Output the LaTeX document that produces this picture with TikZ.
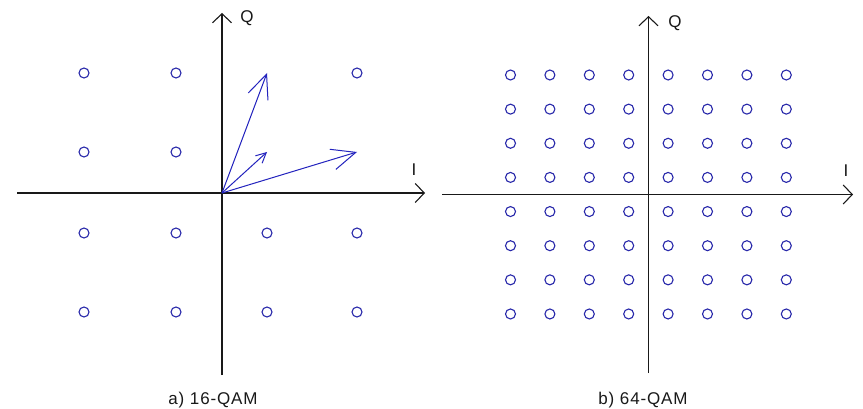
\documentclass[tikz,border=0pt]{standalone}
\usepackage{fontspec}
\setmainfont{Liberation Sans}
\usetikzlibrary{arrows.meta}
\definecolor{ptblue}{RGB}{40,40,170}
\definecolor{vecblue}{RGB}{35,35,190}
\definecolor{axisgray}{RGB}{25,25,25}
\begin{document}
\begin{tikzpicture}[x=1pt,y=-1pt,
  axis/.style={draw=axisgray, line width=1.2pt, -{Straight Barb[length=9pt,width=19pt,line width=1.1pt]}},
  pt/.style={circle, draw=ptblue, line width=1.1pt, minimum size=10pt, inner sep=0pt},
  vec/.style={draw=vecblue, line width=1pt},
  bighead/.style={-{Straight Barb[length=24pt,width=21pt,line width=1pt]}},
  smallhead/.style={-{Straight Barb[length=10pt,width=10pt,line width=1pt]}},
  lbl/.style={font=\fontsize{17}{17}\selectfont\addfontfeatures{LetterSpace=5}, text=axisgray, inner sep=0pt, anchor=base}]
\useasboundingbox (0,0) rectangle (863,409);
\fill[white] (0,0) rectangle (863,409);

% ---------- a) 16-QAM ----------
\coordinate (aL) at (17,193);
\coordinate (aR) at (425,193);
\coordinate (aB) at (222,375);
\coordinate (aT) at (222,13);
\coordinate (o1) at (222,193);
\draw[axis] (aL) -- (aR);
\draw[axis] (aB) -- (aT);

\foreach \x/\i in {84/1,176/2,267/3,357/4}{
  \foreach \y/\j in {73/1,152/2,233/3,312/4}{
    \coordinate (g\i\j) at (\x,\y);
  }
}
\foreach \n in {11,12,13,14,21,22,23,24,33,34,41,43,44}{
  \node[pt] (p\n) at (g\n) {};
}

\draw[vec,bighead] (o1) -- (g31);
\draw[vec,smallhead] (o1) -- (g32);
\draw[vec,bighead] (o1) -- (g42);

\node[lbl] (Qa) at (247,23) {Q};
\node[lbl] (Ia) at (414,175.5) {I};
\node[lbl] (capA) at (213,404) {a) 16-QAM};

% ---------- b) 64-QAM ----------
\coordinate (bL) at (442,194.5);
\coordinate (bR) at (853,194.5);
\coordinate (bB) at (648.5,373);
\coordinate (bT) at (648.5,16);
\draw[axis] (bL) -- (bR);
\draw[axis] (bB) -- (bT);

\foreach \k in {0,...,7}{
  \foreach \m in {0,...,7}{
    \node[pt] (q\k\m) at ({510.5+39.4*\k},{75+34.14*\m}) {};
  }
}

\node[lbl] (Qb) at (675,28) {Q};
\node[lbl] (Ib) at (846,176.5) {I};
\node[lbl] (capB) at (643,404) {b) 64-QAM};
\end{tikzpicture}
\end{document}
